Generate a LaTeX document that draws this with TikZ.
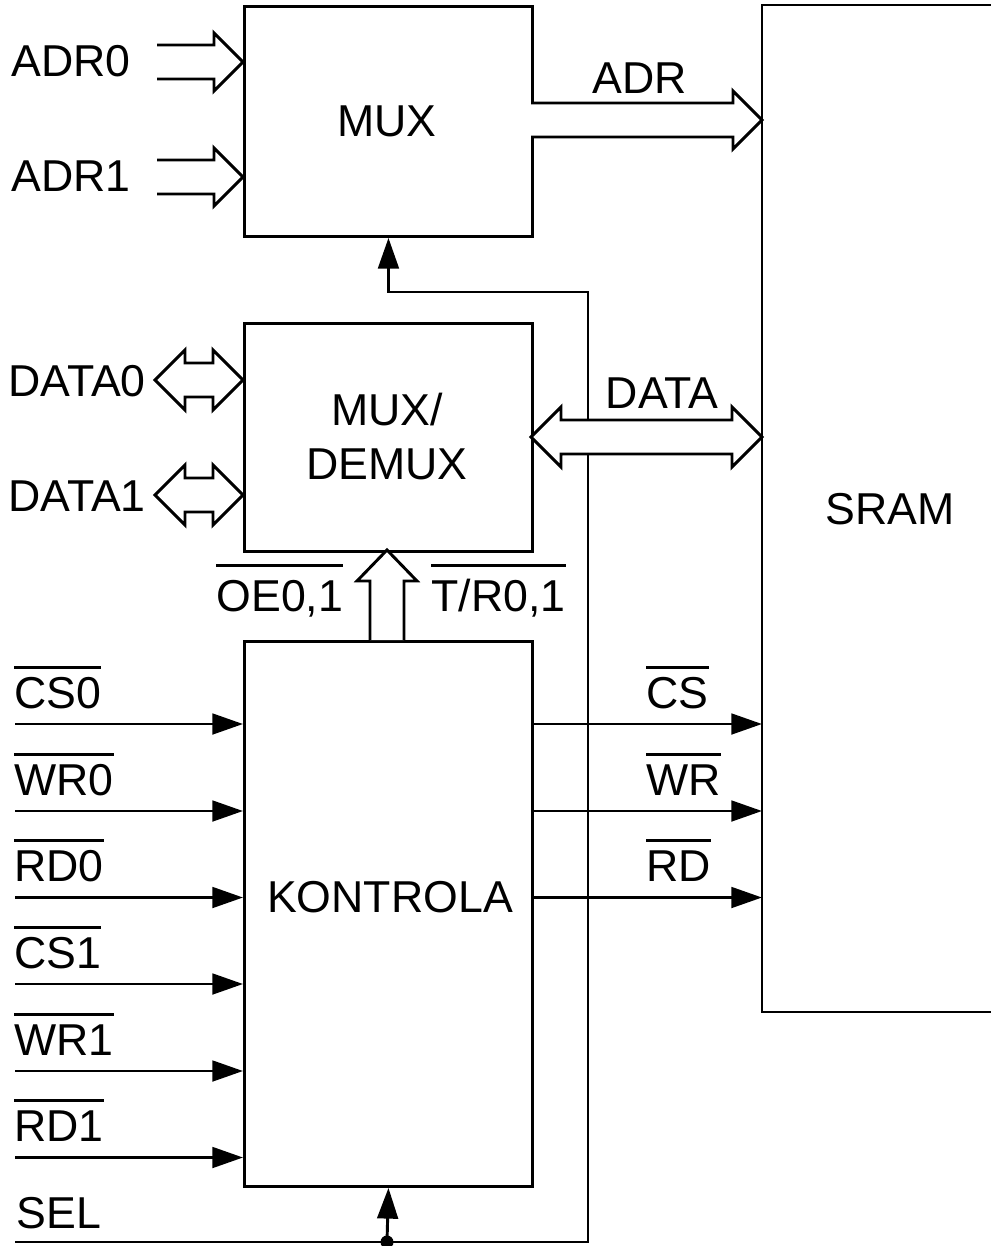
\documentclass[tikz,border=0pt]{standalone}
\usepackage{fontspec}
\setmainfont{Liberation Sans}
\usetikzlibrary{arrows.meta}
\newcommand\ovl[2][29.5pt]{\setbox0\hbox{#2}\rlap{\rule[#1]{\wd0}{2.2pt}}\box0}
\newcommand\hR[3]{\path[hollow] (#1,#3-17) -- (#2-29,#3-17) -- (#2-29,#3-29) -- (#2,#3) -- (#2-29,#3+29) -- (#2-29,#3+17) -- (#1,#3+17);}
\newcommand\hD[3]{\path[hollow] (#1,#3) -- (#1+30,#3-30) -- (#1+30,#3-17) -- (#2-30,#3-17) -- (#2-30,#3-30) -- (#2,#3) -- (#2-30,#3+30) -- (#2-30,#3+17) -- (#1+30,#3+17) -- (#1+30,#3+30) -- cycle;}
\begin{document}
\begin{tikzpicture}[x=0.75pt,y=-0.75pt, line width=2.2pt,
  txt/.style={inner sep=0pt, font=\fontsize{33.5}{40}\selectfont},
  blk/.style={draw, line width=2.2pt, inner sep=0pt, anchor=north west},
  sig/.style={-{Triangle[length=23pt,width=15.5pt]}},
  hollow/.style={draw, fill=white, line join=miter, line width=2.2pt}]
\useasboundingbox (0,0) rectangle (991,1246);
% boxes
\node[blk, minimum width=216pt, minimum height=172.5pt] (mux) at (243,5) {};
\node[blk, minimum width=216pt, minimum height=171pt] (mdx) at (243,322) {};
\node[blk, minimum width=216pt, minimum height=408.75pt] (kon) at (243,640) {};
\draw (991,5) -- (762,5) -- (762,1012) -- (991,1012);
% box texts
\node[txt, anchor=base] (tmux) at (387,136) {MUX};
\node[txt, anchor=base] (tmdx1) at (387,425) {MUX/};
\node[txt, anchor=base] (tmdx2) at (387,479) {DEMUX};
\node[txt, anchor=base] (tkon) at (390,912) {KONTROLA};
\node[txt, anchor=base] (sram) at (890,524) {SRAM};
% control / select line
\draw[sig] (15,1242) -| (588,292) -| (mux.south);
\coordinate (jn) at (387,1242);
\draw[sig] (jn) -- (kon.south);
\fill (jn) circle (6.5);
% inputs to KONTROLA and outputs to SRAM
\foreach \lab/\y [count=\i] in {CS0/724, WR0/811, RD0/897.5, CS1/984, WR1/1071, RD1/1157.5} {
  \node[txt, anchor=base west] (in\i) at (13,\y-16) {\ovl{\lab}};
  \draw[sig] (15,\y) -- (kon.west |- 0,\y);
}
\foreach \lab/\y [count=\i] in {CS/724, WR/811, RD/897.5} {
  \node[txt, anchor=base west] (out\i) at (645,\y-16) {\ovl{\lab}};
  \draw[sig] (kon.east |- 0,\y) -- (762,\y);
}
% bus arrows
\hR{157}{243}{62}
\hR{157}{243}{177}
\hR{531}{762}{120}
\hD{155}{243}{380}
\hD{155}{243}{495}
\hD{531}{762}{437}
\path[hollow] (370,640) -- (370,581) -- (357,581) -- (387,550) -- (417,581) -- (404,581) -- (404,640);
% labels
\node[txt, anchor=base west] (ladr0) at (10,76) {ADR0};
\node[txt, anchor=base west] (ladr1) at (10,191) {ADR1};
\node[txt, anchor=base] (ladr) at (640,93) {ADR};
\node[txt, anchor=base west] (ld0) at (7,396) {DATA0};
\node[txt, anchor=base west] (ld1) at (7,511) {DATA1};
\node[txt, anchor=base] (ldata) at (662,408) {DATA};
\node[txt, anchor=base west] (loe) at (215,611) {\ovl[33pt]{OE0,1}};
\node[txt, anchor=base west] (ltr) at (430,611) {\ovl[33pt]{T/R0,1}};
\node[txt, anchor=base west] (lsel) at (15,1228) {SEL};
\end{tikzpicture}
\end{document}
